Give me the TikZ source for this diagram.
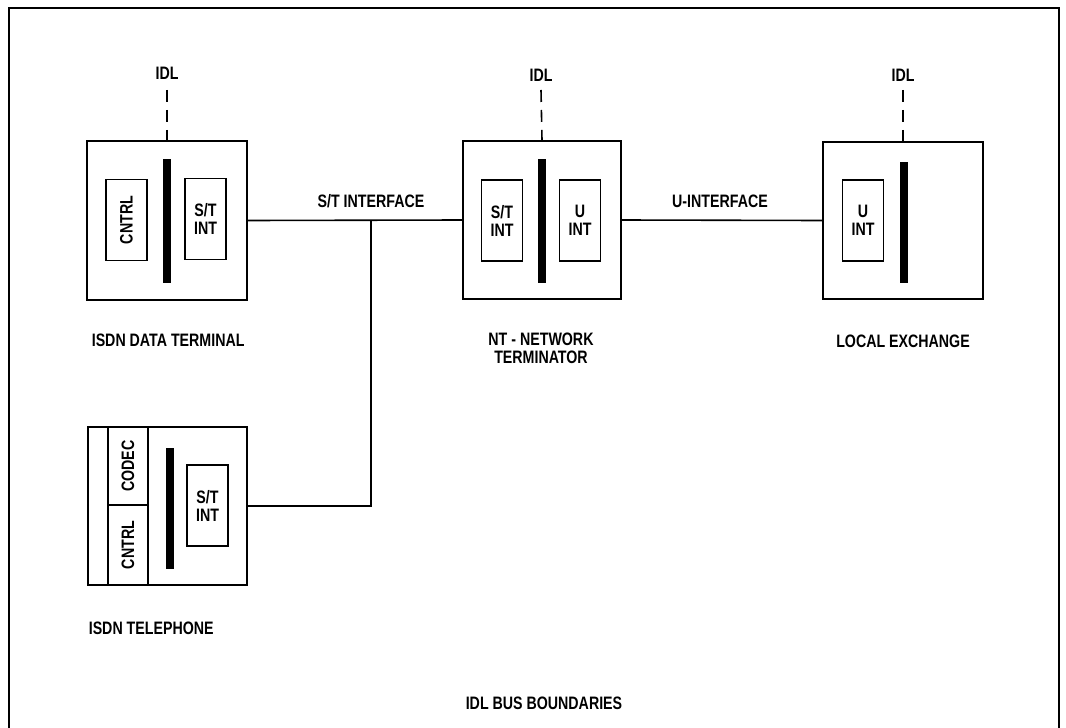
\documentclass[tikz,border=0pt]{standalone}
\usepackage{fontspec}
\setmainfont{Liberation Sans}[FakeStretch=0.79]
\usepackage{tikz}

\tikzset{
    unitbox/.style={draw, line width=1.6pt, inner sep=0pt},
    intbox/.style={draw, line width=1.5pt, inner sep=0pt, minimum width=41, minimum height=81, align=center},
    busbar/.style={fill=black, inner sep=0pt, minimum width=8},
    idlline/.style={line width=1.6pt, dash pattern=on 12pt off 8pt},
    lbl/.style={inner sep=0pt, align=center}
}

\begin{document}
\begin{tikzpicture}[x=1pt, y=-1pt, font=\fontsize{18}{18}\selectfont\bfseries, line width=1.6pt]
    \useasboundingbox (0,0) rectangle (1066,728);
    % outer frame
    \draw[line width=2.2pt] (9,728) -- (9,8) -- (1059,8) -- (1059,728);

    % ISDN data terminal
    \node[unitbox, minimum width=160, minimum height=159] (dte) at (167,220.5) {};
    \node[intbox] (dtecntrl) at (126.5,220) {\rotatebox{90}{CNTRL}};
    \node[busbar, minimum height=124] (dtebar) at (167,221) {};
    \node[intbox] (dteint) at (205.5,219) {S/T\\INT};
    \node[lbl, anchor=west] (dtelbl) at (91,340) {ISDN DATA TERMINAL};

    % NT - network terminator
    \node[unitbox, minimum width=158, minimum height=158] (nt) at (542,220) {};
    \node[intbox] (ntst) at (502,220.5) {S/T\\INT};
    \node[busbar, minimum height=124] (ntbar) at (542,221) {};
    \node[intbox] (ntu) at (580,220.5) {U\\INT};
    \node[lbl] (ntlbl) at (541,348) {NT - NETWORK\\TERMINATOR};

    % local exchange
    \node[unitbox, minimum width=160, minimum height=157] (le) at (903,220.5) {};
    \node[intbox] (leu) at (863,220.5) {U\\INT};
    \node[busbar, minimum height=121] (lebar) at (903.5,222.5) {};
    \node[lbl] (lelbl) at (903,341) {LOCAL EXCHANGE};

    % ISDN telephone
    \node[unitbox, minimum width=159, minimum height=158] (tel) at (167.5,506) {};
    \node[intbox, minimum width=40, minimum height=78] (telcodec) at (128,466) {\rotatebox{90}{CODEC}};
    \node[intbox, minimum width=40, minimum height=80] (telcntrl) at (128,545) {\rotatebox{90}{CNTRL}};
    \node[busbar, minimum height=121] (telbar) at (169.5,508.5) {};
    \node[intbox] (telint) at (207.5,505.5) {S/T\\INT};
    \node[lbl, anchor=west] (tellbl) at (88,628) {ISDN TELEPHONE};

    % IDL taps
    \node[lbl] (idla) at (167,73) {IDL};
    \node[lbl] (idlb) at (541,75) {IDL};
    \node[lbl] (idlc) at (903,75) {IDL};
    \draw[idlline] (idla.south) ++(0,10) -- (dte.north);
    \draw[idlline] (idlb.south) ++(0,8) -- (nt.north);
    \draw[idlline] (idlc.south) ++(0,8) -- (le.north);

    % interfaces
    \coordinate (junc) at (371,221);
    \draw (dte.east) -- (nt.west);
    \draw (tel.east) -| (junc);
    \draw (nt.east) -- (le.west);
    \node[lbl] (stlbl) at (371,201) {S/T INTERFACE};
    \node[lbl] (ulbl) at (720,201) {U-INTERFACE};

    \node[lbl] (buslbl) at (544,703) {IDL BUS BOUNDARIES};
\end{tikzpicture}
\end{document}
